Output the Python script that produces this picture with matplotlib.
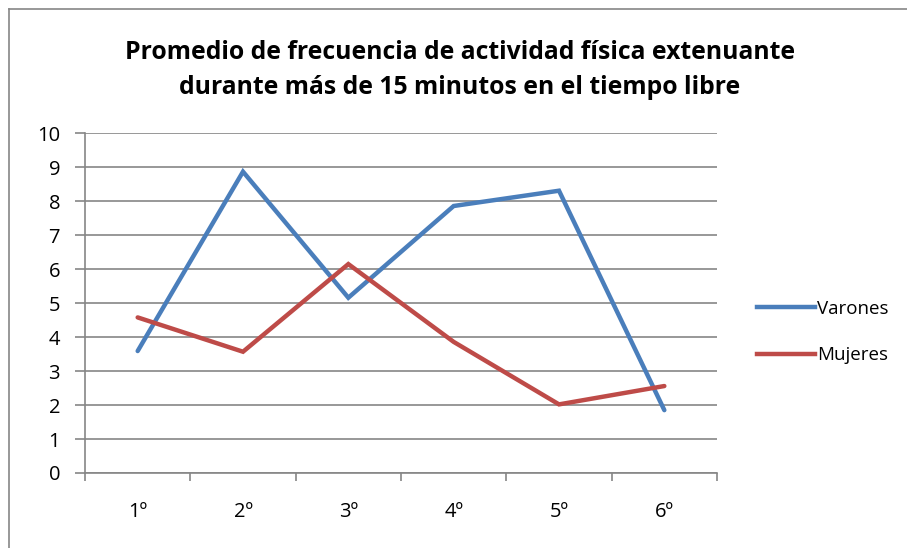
import matplotlib
matplotlib.use("Agg")
import matplotlib.pyplot as plt
from matplotlib.lines import Line2D

categories = ["1º", "2º", "3º", "4º", "5º", "6º"]
varones = [3.59, 8.87, 5.16, 7.86, 8.31, 1.85]
mujeres = [4.58, 3.57, 6.15, 3.86, 2.02, 2.56]
series_names = ["Varones", "Mujeres"]
title = "Promedio de frecuencia de actividad física extenuante\ndurante más de 15 minutos en el tiempo libre"

plt.rcParams['font.family'] = ['Open Sans', 'DejaVu Sans']

fig = plt.figure(figsize=(9.07, 5.48), dpi=100)
# outer chart border (only left/top visible)
fig.add_artist(Line2D([9/907, 9/907], [0, 1 - 9/548], color="#868686", lw=1.2))
fig.add_artist(Line2D([9/907, 1], [1 - 9/548, 1 - 9/548], color="#868686", lw=1.2))

ax = fig.add_axes([85/907, 1 - 473/548, (717 - 85)/907, (473 - 133.3)/548])
x = list(range(len(categories)))
blue = "#4A7EBB"
red = "#BE4B48"
ax.plot(x, varones, color=blue, lw=3.2, solid_capstyle="round", solid_joinstyle="miter", zorder=3)
ax.plot(x, mujeres, color=red, lw=3.2, solid_capstyle="round", solid_joinstyle="miter", zorder=3)

ax.set_xlim(-0.5, len(categories) - 0.5)
ax.set_ylim(0, 10)
ax.set_yticks(range(0, 11))
ax.tick_params(axis="y", length=7, width=1.2, color="#868686", labelsize=14.5, pad=11)
ax.set_xticks([i - 0.5 for i in range(len(categories) + 1)])
ax.set_xticklabels([])
ax.tick_params(axis="x", which="major", length=6, width=1.2, color="#868686", direction="out")
ax.set_xticks(x, minor=True)
ax.set_xticklabels(categories, minor=True)
ax.tick_params(axis="x", which="minor", length=0, labelsize=14.5, pad=21)
ax.grid(axis="y", color="#868686", lw=1.2)
ax.set_axisbelow(True)
for s in ["top", "right"]:
    ax.spines[s].set_visible(False)
for s in ["left", "bottom"]:
    ax.spines[s].set_color("#868686")
    ax.spines[s].set_linewidth(1.2)

fig.text(460/907, 1 - 70/548, title, ha="center", va="center",
         fontsize=17.8, fontweight="bold", linespacing=1.5)

handles = [Line2D([], [], color=blue, lw=3.2), Line2D([], [], color=red, lw=3.2)]
fig.legend(handles, series_names, loc="center left", bbox_to_anchor=(740/907, 1 - 332/548),
           frameon=False, fontsize=13.5, handlelength=3.1, handletextpad=0.1, labelspacing=1.5)

fig.savefig("out.png", dpi=100)
